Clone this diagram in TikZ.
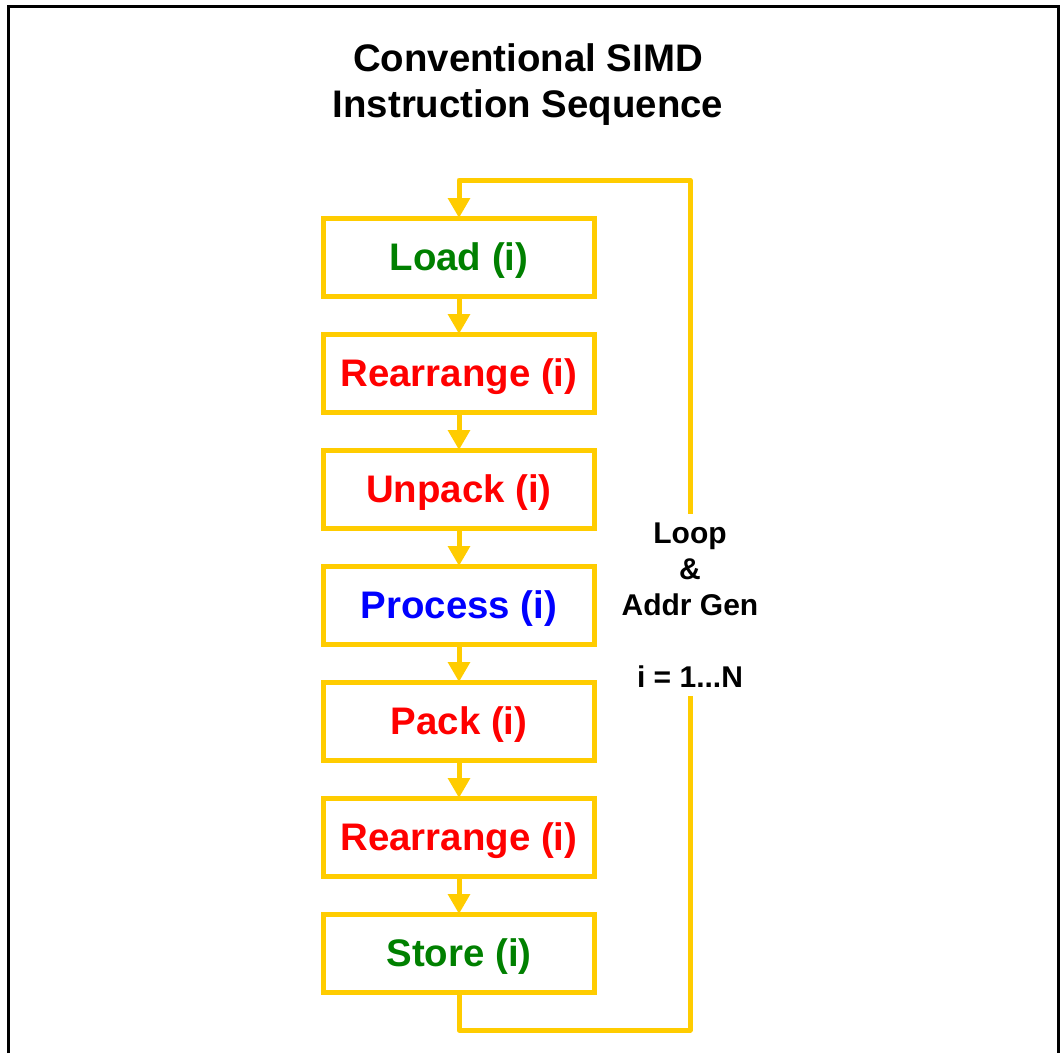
\documentclass[tikz,border=0pt]{standalone}
\usepackage{fontspec}
\setmainfont{Liberation Sans}
\usepackage{xcolor}
\usetikzlibrary{arrows.meta, positioning}

\definecolor{loopyellow}{HTML}{FFCC00}
\definecolor{memgreen}{HTML}{008000}
\definecolor{overred}{HTML}{FF0000}
\definecolor{workblue}{HTML}{0000FF}

\begin{document}
\begin{tikzpicture}[
    x=0.75pt, y=-0.75pt,
    node distance=28.5pt,
    box/.style={rectangle, draw=loopyellow, line width=3.75pt, outer sep=0pt, minimum width=203pt, minimum height=58.5pt, text height=25.5pt, text depth=6pt, align=center, font=\fontsize{28.8}{34.5}\selectfont\bfseries, fill=white},
    arrow/.style={-{Triangle[length=15pt, width=16pt]}, line width=3.75pt, color=loopyellow},
    loopline/.style={line width=3.75pt, color=loopyellow, line join=round}
]
    \useasboundingbox (0,0) rectangle (1060,1053);
    % Frame
    \draw[line width=2.25pt] (8,1053) -- (8,6) -- (1058,6) -- (1058,1053);

    % Title
    \node[align=center, font=\fontsize{28.8}{34.5}\selectfont\bfseries] (title) at (528,85) {Conventional SIMD\\Instruction Sequence};

    % Instruction steps
    \node[box, text=memgreen] (load) at (459,257) {Load (i)};
    \node[box, text=overred, below=of load] (rearrA) {Rearrange (i)};
    \node[box, text=overred, below=of rearrA] (unpack) {Unpack (i)};
    \node[box, text=workblue, below=of unpack] (process) {Process (i)};
    \node[box, text=overred, below=of process] (pack) {Pack (i)};
    \node[box, text=overred, below=of pack] (rearrB) {Rearrange (i)};
    \node[box, text=memgreen, below=of rearrB] (store) {Store (i)};

    % Loop label
    \node[align=center, inner sep=0pt, minimum height=136.5pt, font=\fontsize{22.5}{27}\selectfont\bfseries] (loopinfo) at (690,605) {Loop\\\&\\Addr Gen\\[27pt]i = 1...N};

    % Loop corners
    \coordinate (looptop) at (459,180);
    \coordinate (loopbot) at (459,1030);

    % Arrows
    \draw[arrow] (load) -- (rearrA);
    \draw[arrow] (rearrA) -- (unpack);
    \draw[arrow] (unpack) -- (process);
    \draw[arrow] (process) -- (pack);
    \draw[arrow] (pack) -- (rearrB);
    \draw[arrow] (rearrB) -- (store);
    \draw[loopline] (store.south) -- (loopbot) -| (loopinfo.south);
    \draw[arrow, line join=round] (loopinfo.north) |- (looptop) -- (load.north);
\end{tikzpicture}
\end{document}
